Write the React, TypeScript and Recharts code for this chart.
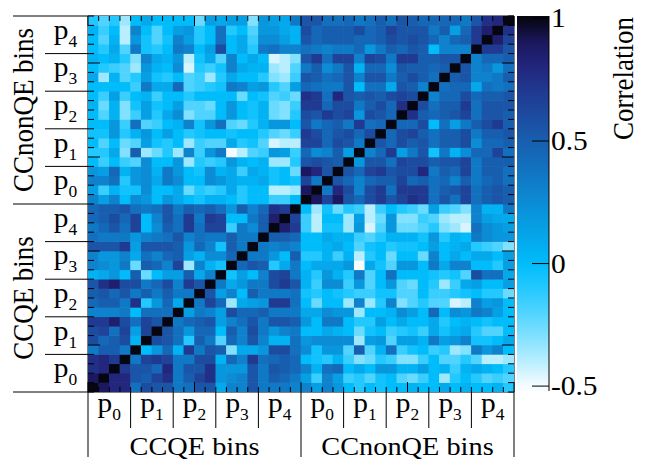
import {
  ScatterChart,
  Scatter,
  XAxis,
  YAxis,
  ReferenceLine,
  BarChart,
  Bar,
  Label,
} from "recharts";

// sample names (x: left -> right, y: bottom -> top)
const groupNames = ["CCQE bins", "CCnonQE bins"];
// momentum bins inside each sample, 4 matrix bins each
const momentumBins = ["0", "1", "2", "3", "4"];
const binsPerMomentum = 4;
const colorbarTicks = [-0.5, 0, 0.5, 1];

// CCQE (rows, bottom -> top) vs CCQE (columns)
const ccqeVsCcqe = [
  [1, 0.9, 0.8, 0.8, 0.4, 0.6, 0.55, 0.55, 0.35, 0.4, 0.55, 0.55, 0.1, 0.3, 0.3, 0.55, 0.35, 0.35, 0.35, 0.3],
  [0.9, 1, 0.8, 0.8, 0.55, 0.5, 0.65, 0.75, 0.35, 0.5, 0.65, 0.75, 0.2, 0.25, 0.3, 0.55, 0.35, 0.5, 0.45, 0.35],
  [0.75, 0.8, 1, 0.7, 0.55, 0.55, 0.45, 0.8, 0.35, 0.55, 0.55, 0.75, 0.2, 0.2, 0.2, 0.55, 0.35, 0.55, 0.5, 0.45],
  [0.75, 0.8, 0.7, 1, 0.35, 0.65, 0.7, 0.65, 0.35, 0.35, 0.6, 0.6, 0.05, 0.45, 0.3, 0.7, 0.4, 0.45, 0.5, 0.45],
  [0.35, 0.5, 0.5, 0.35, 1, 0.0, 0.2, 0.45, 0.05, 0.7, 0.35, 0.55, 0.5, -0.3, 0.1, 0.1, 0.2, 0.6, 0.6, 0.4],
  [0.6, 0.45, 0.5, 0.6, 0.05, 1, 0.6, 0.55, 0.4, -0.1, 0.5, 0.35, -0.2, 0.45, 0.3, 0.55, 0.3, 0.05, 0.05, 0.4],
  [0.6, 0.65, 0.4, 0.65, 0.15, 0.65, 1, 0.55, 0.4, 0.2, 0.45, 0.45, 0.0, 0.5, 0.3, 0.6, 0.35, 0.2, 0.3, 0.35],
  [0.7, 0.7, 0.85, 0.6, 0.4, 0.65, 0.55, 1, 0.35, 0.45, 0.5, 0.55, 0.15, 0.3, 0.4, 0.55, 0.35, 0.55, 0.55, 0.5],
  [0.3, 0.3, 0.3, 0.35, 0.0, 0.4, 0.4, 0.4, 1, 0.15, 0.35, 0.3, 0.15, 0.6, 0.45, 0.45, 0.5, 0.35, 0.35, 0.35],
  [0.45, 0.5, 0.5, 0.35, 0.75, -0.1, 0.2, 0.45, 0.1, 1, 0.35, 0.65, 0.45, -0.35, 0.1, 0.15, 0.2, 0.7, 0.7, 0.4],
  [0.5, 0.55, 0.45, 0.55, 0.35, 0.5, 0.35, 0.5, 0.35, 0.35, 1, 0.55, 0.15, 0.3, 0.0, 0.5, 0.35, 0.35, 0.35, 0.4],
  [0.55, 0.75, 0.85, 0.6, 0.6, 0.35, 0.45, 0.6, 0.3, 0.7, 0.55, 1, 0.35, 0.1, 0.2, 0.35, 0.35, 0.6, 0.7, 0.55],
  [0.05, 0.1, 0.2, 0.0, 0.5, -0.25, 0.0, 0.15, 0.15, 0.5, 0.1, 0.3, 1, -0.05, 0.15, 0.0, 0.3, 0.6, 0.65, 0.35],
  [0.3, 0.25, 0.2, 0.35, -0.25, 0.5, 0.45, 0.3, 0.65, -0.35, 0.3, 0.05, -0.05, 1, 0.45, 0.55, 0.5, -0.1, 0.1, 0.35],
  [0.3, 0.2, 0.2, 0.3, 0.1, 0.4, 0.3, 0.45, 0.5, 0.15, 0.05, 0.25, 0.25, 0.45, 1, 0.35, 0.35, 0.2, 0.0, 0.5],
  [0.55, 0.55, 0.55, 0.7, 0.15, 0.55, 0.55, 0.55, 0.5, 0.2, 0.45, 0.3, -0.05, 0.5, 0.35, 1, 0.35, 0.3, 0.35, 0.3],
  [0.4, 0.35, 0.35, 0.35, 0.2, 0.3, 0.35, 0.4, 0.55, 0.3, 0.4, 0.35, 0.35, 0.5, 0.35, 0.35, 1, 0.5, 0.5, 0.45],
  [0.35, 0.45, 0.55, 0.4, 0.65, 0.0, 0.25, 0.5, 0.4, 0.7, 0.4, 0.65, 0.65, -0.15, 0.35, 0.25, 0.5, 1, 0.85, 0.7],
  [0.45, 0.5, 0.6, 0.45, 0.65, 0.0, 0.3, 0.55, 0.4, 0.7, 0.35, 0.7, 0.65, 0.0, 0.0, 0.35, 0.5, 0.85, 1, 0.65],
  [0.45, 0.5, 0.5, 0.55, 0.4, 0.35, 0.4, 0.55, 0.35, 0.5, 0.45, 0.5, 0.4, 0.2, 0.5, 0.3, 0.45, 0.75, 0.7, 1],
];

// CCQE (rows) vs CCnonQE (columns); the upper-left block is its transpose
const ccqeVsNonqe = [
  [0.3, 0.15, 0.3, 0.2, 0.0, -0.1, 0.0, -0.05, 0.0, 0.0, 0.05, 0.0, 0.0, 0.1, 0.0, 0.05, 0.0, 0.0, 0.05, -0.1],
  [0.15, -0.15, 0.3, 0.15, -0.15, -0.1, -0.2, -0.05, 0.0, -0.2, -0.25, -0.15, 0.0, -0.35, -0.1, 0.0, -0.1, -0.2, -0.15, -0.2],
  [0.3, 0.05, 0.4, 0.45, 0.0, 0.1, 0.0, 0.2, 0.2, 0.05, 0.05, 0.15, 0.0, 0.05, -0.15, 0.05, 0.1, 0.05, 0.0, -0.1],
  [0.0, -0.05, -0.1, 0.05, -0.15, -0.3, -0.25, -0.1, -0.15, -0.3, -0.3, -0.15, 0.0, -0.2, -0.2, -0.1, -0.2, -0.4, -0.4, -0.35],
  [0.25, -0.05, 0.2, 0.2, -0.2, 0.5, -0.2, 0.05, 0.4, -0.15, -0.05, 0.0, -0.15, -0.1, -0.35, -0.3, 0.35, 0.2, 0.3, 0.0],
  [0.2, 0.25, 0.25, 0.25, 0.25, -0.35, 0.15, 0.2, -0.2, 0.15, 0.15, 0.05, 0.35, 0.15, 0.2, 0.3, -0.05, -0.05, 0.0, 0.1],
  [0.0, 0.0, 0.1, 0.05, 0.0, -0.25, -0.05, 0.0, -0.15, -0.1, -0.05, -0.15, 0.1, -0.05, 0.05, 0.1, -0.1, -0.2, -0.2, 0.0],
  [0.2, 0.0, 0.35, 0.35, 0.0, -0.1, -0.1, 0.15, 0.0, 0.1, 0.0, 0.0, 0.1, -0.1, 0.0, 0.05, 0.0, -0.05, 0.0, 0.0],
  [0.1, 0.1, 0.25, 0.2, 0.2, -0.35, 0.0, 0.0, 0.05, 0.25, 0.15, 0.0, 0.45, 0.0, 0.25, 0.2, 0.35, 0.3, 0.15, 0.0],
  [0.0, -0.25, 0.0, 0.0, -0.35, 0.3, -0.35, -0.1, 0.3, -0.3, -0.2, -0.1, -0.2, -0.2, -0.45, -0.4, 0.3, 0.15, 0.2, 0.0],
  [-0.05, -0.1, 0.0, -0.05, -0.1, -0.15, -0.15, -0.05, -0.05, -0.2, -0.2, 0.0, -0.15, -0.15, -0.1, -0.05, 0.0, -0.1, -0.1, -0.25],
  [0.05, -0.15, 0.25, 0.25, -0.15, 0.2, -0.2, 0.0, 0.2, -0.2, -0.25, 0.0, -0.1, -0.35, -0.15, 0.1, 0.15, 0.0, 0.0, 0.15],
  [0.05, -0.1, 0.2, 0.05, -0.1, 0.35, -0.2, 0.0, 0.4, 0.0, 0.0, 0.0, -0.05, -0.1, -0.05, -0.2, 0.6, 0.4, 0.4, 0.1],
  [0.0, 0.1, 0.1, 0.1, 0.2, -0.5, 0.1, -0.05, -0.2, 0.2, 0.2, 0.0, 0.35, 0.1, 0.3, 0.3, 0.0, 0.0, -0.1, 0.15],
  [-0.1, -0.1, 0.05, -0.15, 0.05, -0.4, -0.1, 0.0, -0.25, 0.0, 0.0, -0.25, 0.3, 0.0, 0.1, 0.0, 0.1, 0.1, 0.0, 0.15],
  [0.0, 0.0, 0.05, 0.1, 0.0, -0.2, -0.05, 0.0, -0.1, -0.05, -0.05, 0.0, 0.15, 0.0, 0.05, 0.1, -0.1, -0.15, -0.2, -0.3],
  [0.0, 0.0, 0.1, 0.05, 0.05, -0.15, -0.2, -0.1, 0.05, 0.05, 0.05, -0.05, 0.2, -0.1, 0.05, 0.0, 0.35, 0.25, 0.2, 0.2],
  [-0.15, -0.4, -0.05, -0.05, -0.35, 0.2, -0.45, -0.2, 0.2, -0.25, -0.25, -0.2, -0.1, -0.3, -0.35, -0.45, 0.4, 0.25, 0.2, 0.15],
  [-0.15, -0.4, 0.0, 0.0, -0.35, 0.15, -0.4, -0.25, 0.2, -0.3, -0.3, -0.15, -0.2, -0.35, -0.4, -0.4, 0.3, 0.15, 0.1, 0.1],
  [0.0, -0.35, -0.05, -0.25, -0.1, -0.15, -0.4, -0.15, 0.0, -0.1, -0.15, -0.25, 0.15, -0.15, -0.2, -0.3, 0.3, 0.05, 0.05, 0.35],
];

// CCnonQE (rows) vs CCnonQE (columns)
const nonqeVsNonqe = [
  [1, 0.9, 0.65, 0.9, 0.55, 0.45, 0.6, 0.7, 0.55, 0.65, 0.75, 0.7, 0.4, 0.55, 0.4, 0.65, 0.4, 0.5, 0.55, 0.5],
  [0.9, 1, 0.35, 0.8, 0.6, 0.3, 0.6, 0.7, 0.4, 0.7, 0.7, 0.7, 0.4, 0.5, 0.55, 0.65, 0.4, 0.5, 0.55, 0.5],
  [0.65, 0.35, 1, 0.55, 0.45, 0.3, 0.45, 0.5, 0.5, 0.65, 0.45, 0.5, 0.4, 0.45, 0.3, 0.5, 0.35, 0.45, 0.5, 0.4],
  [0.9, 0.8, 0.55, 1, 0.55, 0.45, 0.65, 0.7, 0.55, 0.6, 0.6, 0.8, 0.35, 0.5, 0.45, 0.65, 0.35, 0.5, 0.5, 0.4],
  [0.55, 0.6, 0.55, 0.5, 1, 0.2, 0.55, 0.55, 0.4, 0.65, 0.6, 0.6, 0.5, 0.55, 0.55, 0.65, 0.35, 0.5, 0.5, 0.5],
  [0.45, 0.25, 0.3, 0.5, 0.15, 1, 0.3, 0.45, 0.7, 0.15, 0.35, 0.55, -0.05, 0.35, 0.05, 0.25, 0.45, 0.45, 0.65, 0.4],
  [0.65, 0.65, 0.45, 0.6, 0.55, 0.35, 1, 0.55, 0.45, 0.6, 0.5, 0.55, 0.4, 0.5, 0.5, 0.6, 0.25, 0.45, 0.45, 0.5],
  [0.7, 0.6, 0.45, 0.55, 0.6, 0.45, 0.6, 1, 0.45, 0.6, 0.65, 0.5, 0.4, 0.5, 0.5, 0.6, 0.35, 0.5, 0.5, 0.55],
  [0.55, 0.35, 0.45, 0.5, 0.35, 0.7, 0.4, 0.45, 1, 0.45, 0.45, 0.6, 0.0, 0.4, 0.15, 0.35, 0.5, 0.6, 0.7, 0.5],
  [0.6, 0.55, 0.7, 0.6, 0.65, 0.2, 0.6, 0.55, 0.45, 1, 0.75, 0.5, 0.45, 0.5, 0.55, 0.65, 0.4, 0.55, 0.55, 0.5],
  [0.7, 0.7, 0.45, 0.6, 0.6, 0.35, 0.5, 0.6, 0.45, 0.75, 1, 0.6, 0.4, 0.5, 0.5, 0.7, 0.4, 0.55, 0.55, 0.55],
  [0.75, 0.7, 0.4, 0.8, 0.55, 0.5, 0.55, 0.5, 0.6, 0.65, 0.6, 1, 0.3, 0.45, 0.45, 0.6, 0.45, 0.5, 0.5, 0.55],
  [0.45, 0.4, 0.35, 0.35, 0.55, 0.0, 0.4, 0.4, 0.1, 0.55, 0.5, 0.3, 1, 0.4, 0.45, 0.45, 0.1, 0.4, 0.35, 0.4],
  [0.55, 0.5, 0.4, 0.45, 0.55, 0.3, 0.55, 0.55, 0.35, 0.5, 0.6, 0.5, 0.4, 1, 0.5, 0.55, 0.3, 0.3, 0.35, 0.5],
  [0.35, 0.5, 0.25, 0.35, 0.55, 0.05, 0.45, 0.45, 0.25, 0.55, 0.5, 0.5, 0.45, 0.5, 1, 0.55, 0.3, 0.35, 0.2, 0.4],
  [0.55, 0.7, 0.4, 0.65, 0.65, 0.3, 0.65, 0.6, 0.35, 0.7, 0.7, 0.5, 0.5, 0.55, 0.55, 1, 0.3, 0.45, 0.45, 0.5],
  [0.4, 0.35, 0.3, 0.35, 0.35, 0.45, 0.2, 0.35, 0.5, 0.45, 0.55, 0.5, 0.0, 0.3, 0.3, 0.3, 1, 0.7, 0.7, 0.55],
  [0.55, 0.45, 0.5, 0.5, 0.5, 0.45, 0.45, 0.5, 0.6, 0.55, 0.6, 0.55, 0.45, 0.3, 0.45, 0.5, 0.7, 1, 0.85, 0.65],
  [0.6, 0.45, 0.5, 0.5, 0.5, 0.6, 0.45, 0.5, 0.65, 0.55, 0.55, 0.55, 0.35, 0.5, 0.15, 0.45, 0.7, 0.85, 1, 0.75],
  [0.55, 0.55, 0.4, 0.4, 0.45, 0.35, 0.4, 0.5, 0.4, 0.55, 0.5, 0.45, 0.45, 0.45, 0.45, 0.35, 0.55, 0.75, 0.8, 1],
];

// colour scale: value -> rgb
const PALETTE: [number, number[]][] = [
  [-0.5, [246, 252, 255]],
  [-0.4, [185, 238, 255]],
  [-0.3, [130, 225, 255]],
  [-0.2, [80, 212, 255]],
  [-0.1, [35, 200, 255]],
  [0.0, [0, 188, 250]],
  [0.1, [4, 168, 235]],
  [0.2, [8, 150, 220]],
  [0.3, [14, 130, 205]],
  [0.4, [18, 112, 190]],
  [0.5, [24, 94, 175]],
  [0.6, [28, 76, 160]],
  [0.7, [32, 58, 145]],
  [0.8, [34, 38, 125]],
  [0.9, [28, 24, 95]],
  [1.0, [6, 6, 18]],
];

function colorFor(v: number) {
  const c = Math.max(-0.5, Math.min(1, v));
  for (let i = 1; i < PALETTE.length; i++) {
    const [v1, c1] = PALETTE[i];
    if (c <= v1) {
      const [v0, c0] = PALETTE[i - 1];
      const t = (c - v0) / (v1 - v0);
      const rgb = c0.map((a, k) => Math.round(a + (c1[k] - a) * t));
      return `rgb(${rgb.join(",")})`;
    }
  }
  return "rgb(6,6,18)";
}

const HALF = ccqeVsCcqe.length;
const NBINS = HALF * 2;

const cells: { x: number; y: number; v: number }[] = [];
for (let row = 0; row < NBINS; row++) {
  for (let col = 0; col < NBINS; col++) {
    let v: number;
    if (row < HALF && col < HALF) v = ccqeVsCcqe[row][col];
    else if (row < HALF) v = ccqeVsNonqe[row][col - HALF];
    else if (col < HALF) v = ccqeVsNonqe[col][row - HALF];
    else v = nonqeVsNonqe[row - HALF][col - HALF];
    cells.push({ x: col + 0.5, y: row + 0.5, v });
  }
}

const binTicks = Array.from({ length: NBINS + 1 }, (_, i) => i);

const CB_MIN = -0.52;
const CB_MAX = 1.01;
const colorbarData = [{ name: "Correlation", range: [CB_MIN, CB_MAX] }];

const W = 647;
const H = 461;
const PLOT_LEFT = 88;
const PLOT_TOP = 16;
const PLOT_RIGHT = 514;
const PLOT_BOTTOM = 392;
const CELL_W = (PLOT_RIGHT - PLOT_LEFT) / NBINS;
const CELL_H = (PLOT_BOTTOM - PLOT_TOP) / NBINS;
const FONT = "'Liberation Serif', 'Times New Roman', serif";
const STRETCH = 1.09;
const TEXT_SIZE = 26;

function PLabel({ x, y, n }: { x: number; y: number; n: string }) {
  return (
    <g transform={`translate(${x},${y}) scale(${STRETCH},1)`}>
      <text x={0} y={0} textAnchor="middle" fontFamily={FONT} fontSize={27} fill="#000">
        p
        <tspan fontSize={16} dy={8}>
          {n}
        </tspan>
      </text>
    </g>
  );
}

function XTick(props: any) {
  const { x, y, payload } = props;
  const v = payload.value;
  const inner = v % 10 === 0 ? 10 : 5;
  const m = Math.floor(v / binsPerMomentum) % momentumBins.length;
  return (
    <g>
      <line x1={x} y1={y} x2={x} y2={y - inner} stroke="#000" />
      <line x1={x} y1={PLOT_TOP} x2={x} y2={PLOT_TOP + inner} stroke="#000" />
      {v % HALF === 0 ? (
        <line x1={x} y1={y} x2={x} y2={y + 65} stroke="#000" />
      ) : v % binsPerMomentum === 0 ? (
        <line x1={x} y1={y} x2={x} y2={y + 36} stroke="#000" />
      ) : null}
      {v % binsPerMomentum === 2 && <PLabel x={x} y={y + 20} n={momentumBins[m]} />}
      {v % HALF === HALF / 2 && (
        <g transform={`translate(${x},${y + 63}) scale(${STRETCH},1)`}>
          <text x={0} y={0} textAnchor="middle" fontFamily={FONT} fontSize={TEXT_SIZE} fill="#000">
            {groupNames[Math.floor(v / HALF)]}
          </text>
        </g>
      )}
    </g>
  );
}

function YTick(props: any) {
  const { x, y, payload } = props;
  const v = payload.value;
  const inner = v % 10 === 5 ? 12 : 6;
  const m = Math.floor(v / binsPerMomentum) % momentumBins.length;
  return (
    <g>
      <line x1={x} y1={y} x2={x + inner} y2={y} stroke="#000" />
      <line x1={PLOT_RIGHT - inner} y1={y} x2={PLOT_RIGHT} y2={y} stroke="#000" />
      {v % HALF === 0 ? (
        <line x1={13} y1={y} x2={x} y2={y} stroke="#000" />
      ) : v % binsPerMomentum === 0 ? (
        <line x1={45} y1={y} x2={x} y2={y} stroke="#000" />
      ) : null}
      {v % binsPerMomentum === 2 && <PLabel x={x - 22.5} y={y + 4} n={momentumBins[m]} />}
      {v % HALF === HALF / 2 && (
        <g transform={`translate(33,${y}) scale(${STRETCH},1) rotate(-90)`}>
          <text x={0} y={0} textAnchor="middle" fontFamily={FONT} fontSize={27} fill="#000">
            {groupNames[Math.floor(v / HALF)]}
          </text>
        </g>
      )}
    </g>
  );
}

function ColorbarTick(props: any) {
  const { x, y, payload } = props;
  return (
    <g>
      <line x1={x - 17} y1={y} x2={x} y2={y} stroke="#000" />
      <g transform={`translate(${x + 2},${y + 9}) scale(${STRETCH},1)`}>
        <text x={0} y={0} fontFamily={FONT} fontSize={27} fill="#000">
          {String(payload.value)}
        </text>
      </g>
    </g>
  );
}

const renderCell = (props: any) => {
  const { cx, cy } = props;
  const v = props.payload?.v ?? props.v;
  return (
    <rect
      x={cx - CELL_W / 2 - 0.3}
      y={cy - CELL_H / 2 - 0.3}
      width={CELL_W + 0.6}
      height={CELL_H + 0.6}
      fill={colorFor(v)}
    />
  );
};

export default function App() {
  const stops = PALETTE.slice()
    .reverse()
    .map(([v, rgb]) => (
      <stop
        key={v}
        offset={`${((CB_MAX - v) / (CB_MAX - CB_MIN)) * 100}%`}
        stopColor={`rgb(${rgb.join(",")})`}
      />
    ));
  return (
    <div style={{ position: "absolute", left: 0, top: 0, width: W, height: H, background: "#fff" }}>
      <div style={{ position: "absolute", left: 0, top: 0 }}>
        <ScatterChart width={W} height={H} margin={{ top: PLOT_TOP, right: W - PLOT_RIGHT, bottom: 0, left: 0 }}>
          <Scatter data={cells} shape={renderCell} isAnimationActive={false} />
          <XAxis
            type="number"
            dataKey="x"
            domain={[0, NBINS]}
            ticks={binTicks}
            interval={0}
            height={H - PLOT_BOTTOM}
            tickSize={0}
            tickMargin={0}
            tickLine={false}
            axisLine={{ stroke: "#000" }}
            tick={XTick}
            allowDataOverflow
          />
          <YAxis
            type="number"
            dataKey="y"
            domain={[0, NBINS]}
            ticks={binTicks}
            interval={0}
            width={PLOT_LEFT}
            tickSize={0}
            tickMargin={0}
            tickLine={false}
            axisLine={{ stroke: "#000" }}
            tick={YTick}
            allowDataOverflow
          />
          <ReferenceLine x={NBINS} stroke="#000" />
          <ReferenceLine y={NBINS} stroke="#000" />
        </ScatterChart>
      </div>
      <div style={{ position: "absolute", left: 0, top: 0 }}>
        <BarChart
          width={W}
          height={H}
          data={colorbarData}
          margin={{ top: 16, right: 0, bottom: 70, left: 517 }}
          barCategoryGap={0}
        >
          <defs>
            <linearGradient id="cbarGrad" x1="0" y1="0" x2="0" y2="1">
              {stops}
            </linearGradient>
          </defs>
          <XAxis dataKey="name" hide />
          <YAxis
            orientation="right"
            type="number"
            width={98}
            domain={[CB_MIN, CB_MAX]}
            ticks={colorbarTicks}
            interval={0}
            tickSize={0}
            tickMargin={0}
            tickLine={false}
            axisLine={{ stroke: "#000" }}
            tick={ColorbarTick}
            allowDataOverflow
          >
            <Label
              content={(p: any) => {
                const vb = p.viewBox || { x: 549, y: 16 };
                return (
                  <g transform={`translate(${vb.x + 84},${vb.y + 1}) scale(${STRETCH},1) rotate(-90)`}>
                    <text x={0} y={0} textAnchor="end" fontFamily={FONT} fontSize={27} fill="#000">
                      Correlation
                    </text>
                  </g>
                );
              }}
            />
          </YAxis>
          <Bar dataKey="range" fill="url(#cbarGrad)" isAnimationActive={false} />
        </BarChart>
      </div>
    </div>
  );
}
